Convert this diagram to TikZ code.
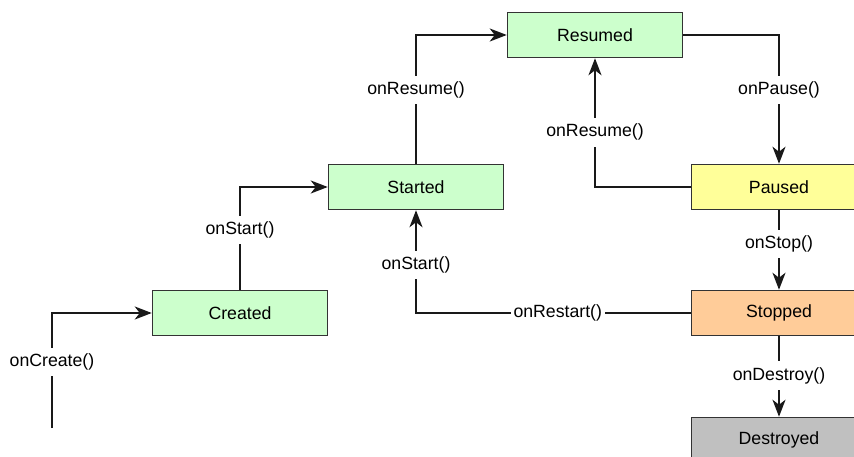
\documentclass[tikz,border=0pt]{standalone}
\usepackage{fontspec}
\setmainfont{Liberation Sans}
\usetikzlibrary{arrows.meta}

\definecolor{stgreen}{HTML}{CCFFCC}
\definecolor{styellow}{HTML}{FFFF99}
\definecolor{storange}{HTML}{FFCC99}
\definecolor{stgray}{HTML}{C0C0C0}
\definecolor{edgegray}{HTML}{333333}

\tikzset{
  state/.style={draw=edgegray, line width=1.5pt, minimum width=175pt,
    minimum height=45pt, inner sep=0pt, font=\fontsize{17.7}{20}\selectfont},
  flow/.style={line width=2pt, draw=black!90,
    -{Stealth[length=17pt,width=13pt,inset=5pt]}},
  call/.style={fill=white, inner xsep=3pt, inner ysep=6pt,
    font=\fontsize{17.7}{20}\selectfont}
}

\begin{document}
\begin{tikzpicture}[x=1pt, y=-1pt]
  \clip (0,0) rectangle (854,457);
  \fill[white] (0,0) rectangle (854,457);

  % lifecycle states
  \node[state, fill=stgreen]   (resumed)   at (595,35)  {Resumed};
  \node[state, fill=stgreen]   (started)   at (416,187) {Started};
  \node[state, fill=stgreen]   (created)   at (240,313) {Created};
  \node[state, fill=styellow]  (paused)    at (779,187) {Paused};
  \node[state, fill=storange]  (stopped)   at (779,313) {Stopped};
  \node[state, fill=stgray]    (destroyed) at (779,440) {Destroyed};

  % entry point
  \coordinate (entry) at (52,428);

  % transitions
  \draw[flow] (entry) |- node[call, pos=0.287] (lcreate) {onCreate()} (created.west);
  \draw[flow] (created.north) |- node[call, pos=0.29] (lstart) {onStart()} (started.west);
  \draw[flow] (started.north) |- node[call, pos=0.287] (lresume) {onResume()} (resumed.west);
  \draw[flow] (resumed.east) -| node[call, pos=0.713] (lpause) {onPause()} (paused.north);
  \draw[flow] (paused.west) -| node[call, pos=0.712] (lresume2) {onResume()} (resumed.south);
  \draw[flow] (paused.south) -- node[call, pos=0.425] (lstop) {onStop()} (stopped.north);
  \draw[flow] (stopped.west) -| node[call, pos=0.242] (lrestart) {onRestart()}
                              node[call, pos=0.733] (lstart2) {onStart()} (started.south);
  \draw[flow] (stopped.south) -- node[call, pos=0.49] (ldestroy) {onDestroy()} (destroyed.north);
\end{tikzpicture}
\end{document}
